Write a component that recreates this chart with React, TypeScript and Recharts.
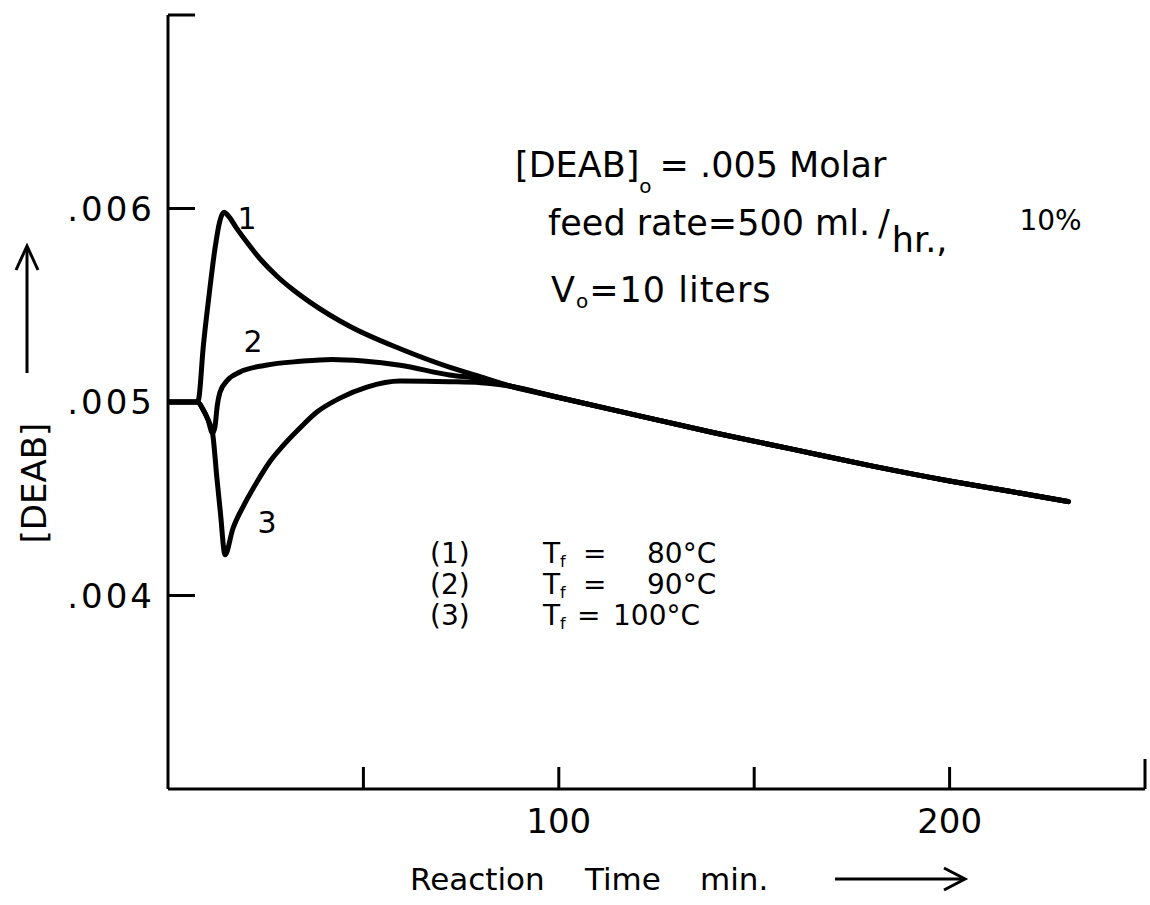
import React from 'react';
import { LineChart, Line, XAxis, YAxis } from 'recharts';

const FONT = '"DejaVu Sans", Verdana, sans-serif';

// Curve 1: T_f = 80 °C
const curve1Time = [0, 7.5, 7.9, 9.0, 10.5, 12.0, 13.2, 14.3, 15.5, 17.5, 20.2, 24, 27.9, 32, 36.4, 46.6, 59.4, 72, 80];
const curve1Conc = [0.005, 0.005, 0.00502, 0.00528, 0.00555, 0.00579, 0.00593, 0.00598, 0.00596, 0.0059, 0.005825, 0.00573, 0.00565, 0.00558, 0.005515, 0.00539, 0.005275, 0.00518, 0.00513];

// Curve 2: T_f = 90 °C
const curve2Time = [0, 7.5, 9.0, 10.2, 11.4, 12.0, 12.6, 13.3, 15.1, 18.4, 25, 33.8, 42, 50, 59.4, 72, 80];
const curve2Conc = [0.005, 0.005, 0.00496, 0.00491, 0.00484, 0.00487, 0.00498, 0.00505, 0.00511, 0.005155, 0.00519, 0.00521, 0.00522, 0.005212, 0.00519, 0.00514, 0.00512];

// Curve 3: T_f = 100 °C
const curve3Time = [0, 7.5, 9.0, 10.2, 11.4, 12.5, 13.4, 14.6, 16.6, 19.5, 22.8, 26, 29.4, 33.5, 38.1, 44, 50.9, 59.4, 72, 80];
const curve3Conc = [0.005, 0.005, 0.00496, 0.00491, 0.00484, 0.00461, 0.00443, 0.00421, 0.004345, 0.00447, 0.004588, 0.00469, 0.004773, 0.00486, 0.004948, 0.00502, 0.005077, 0.005108, 0.005105, 0.0051];

// Common tail after the curves merge
const tailTime = [88, 98.6, 115, 140, 160, 180, 200, 215, 230.4];
const tailConc = [0.00508, 0.00503, 0.004954, 0.00484, 0.004755, 0.00467, 0.004592, 0.00454, 0.004485];

const xTicks = [50, 100, 150, 200, 250];
const xTickLabels: Record<number, string> = { 100: '100', 200: '200' };
const yTicks = [0.004, 0.005, 0.006, 0.007];
const yTickLabels: Record<string, string> = { '0.004': '.004', '0.005': '.005', '0.006': '.006' };
const yTickMarks = ['0.004', '0.006', '0.007'];

const build = (ts: number[], vs: number[]) =>
  ts.map((t, i) => ({ t, v: vs[i] })).concat(tailTime.map((t, i) => ({ t, v: tailConc[i] })));

const data1 = build(curve1Time, curve1Conc);
const data2 = build(curve2Time, curve2Conc);
const data3 = build(curve3Time, curve3Conc);

const XTick = (props: any) => {
  const { x, y, payload } = props;
  const v = payload.value as number;
  const len = v === 250 ? 30 : 22;
  const label = xTickLabels[v];
  return (
    <g>
      <line x1={x} y1={y} x2={x} y2={y - len} stroke="#000" strokeWidth={3} />
      {label && (
        <text x={x} y={y + 44} textAnchor="middle" fontSize={34} fontFamily={FONT} fill="#000">
          {label}
        </text>
      )}
    </g>
  );
};

const YTick = (props: any) => {
  const { x, y, payload } = props;
  const key = String(Number(Number(payload.value).toFixed(4)));
  const label = yTickLabels[key];
  const mark = yTickMarks.includes(key);
  return (
    <g>
      {mark && <line x1={x} y1={y} x2={x + 27} y2={y} stroke="#000" strokeWidth={3} />}
      {label && (
        <text x={x - 13} y={y} dy="0.36em" textAnchor="end" fontSize={34} letterSpacing={3} fontFamily={FONT} fill="#000">
          {label}
        </text>
      )}
    </g>
  );
};

export default function App() {
  return (
    <div style={{ position: 'absolute', left: 0, top: 0, width: 1150, height: 905, background: '#fff' }}>
      <LineChart width={1150} height={905} margin={{ top: 15, right: 5, left: 138, bottom: 86 }}>
        <XAxis
          dataKey="t"
          type="number"
          domain={[0, 250]}
          ticks={xTicks}
          height={30}
          tickSize={0}
          tickMargin={0}
          tickLine={false}
          axisLine={{ stroke: '#000', strokeWidth: 3 }}
          tick={<XTick />}
          interval={0}
          allowDataOverflow
        />
        <YAxis
          type="number"
          domain={[0.003, 0.007]}
          ticks={yTicks}
          width={30}
          tickSize={0}
          tickMargin={0}
          tickLine={false}
          axisLine={{ stroke: '#000', strokeWidth: 3 }}
          tick={<YTick />}
          interval={0}
          allowDataOverflow
        />
        <Line data={data1} dataKey="v" type="monotone" stroke="#000" strokeWidth={5} dot={false} isAnimationActive={false} strokeLinecap="round" strokeLinejoin="round" />
        <Line data={data2} dataKey="v" type="monotone" stroke="#000" strokeWidth={5} dot={false} isAnimationActive={false} strokeLinecap="round" strokeLinejoin="round" />
        <Line data={data3} dataKey="v" type="monotone" stroke="#000" strokeWidth={5} dot={false} isAnimationActive={false} strokeLinecap="round" strokeLinejoin="round" />
      </LineChart>
      <svg width={1150} height={905} style={{ position: 'absolute', left: 0, top: 0, pointerEvents: 'none' }} fontFamily={FONT} fill="#000">
        {/* conditions block */}
        <text x={515} y={177} fontSize={35}>
          [DEAB]<tspan fontSize={20} dy={16}>o</tspan>
          <tspan dy={-16} dx={8}>= .005 Molar</tspan>
        </text>
        <text x={548} y={235} fontSize={35}>
          feed rate=500 ml.
          <tspan dx={8}>/</tspan>
          <tspan dy={17} dx={2}>hr.,</tspan>
          <tspan dy={-22} dx={72} fontSize={28}>10%</tspan>
        </text>
        <text x={551} y={302} fontSize={35} letterSpacing={1}>
          V<tspan fontSize={20} dy={6}>o</tspan>
          <tspan dy={-6}>=10 liters</tspan>
        </text>
        {/* legend */}
        <g fontSize={28}>
          <text x={430} y={563}>(1)</text>
          <text x={543} y={563}>T<tspan fontSize={16} dy={4}>f</tspan></text>
          <text x={583} y={563}>=</text>
          <text x={647} y={563}>80°C</text>
          <text x={430} y={594}>(2)</text>
          <text x={543} y={594}>T<tspan fontSize={16} dy={4}>f</tspan></text>
          <text x={583} y={594}>=</text>
          <text x={647} y={594}>90°C</text>
          <text x={430} y={625}>(3)</text>
          <text x={543} y={625}>T<tspan fontSize={16} dy={4}>f</tspan></text>
          <text x={577} y={625}>=</text>
          <text x={613} y={625}>100°C</text>
        </g>
        {/* curve labels */}
        <text x={247} y={229} fontSize={30} textAnchor="middle">1</text>
        <text x={253} y={352} fontSize={30} textAnchor="middle">2</text>
        <text x={267} y={533} fontSize={30} textAnchor="middle">3</text>
        {/* y-axis title and arrow */}
        <text x={34} y={483} dy="0.36em" fontSize={34} textAnchor="middle" transform="rotate(-90, 34, 483)">[DEAB]</text>
        <line x1={27} y1={373} x2={27} y2={247} stroke="#000" strokeWidth={3} />
        <polyline points="16,270 27,246 38,270" fill="none" stroke="#000" strokeWidth={3} />
        {/* x-axis title and arrow */}
        <text x={410} y={890} fontSize={31}>Reaction</text>
        <text x={585} y={890} fontSize={31}>Time</text>
        <text x={700} y={890} fontSize={31}>min.</text>
        <line x1={835} y1={879} x2={965} y2={879} stroke="#000" strokeWidth={3} />
        <polyline points="944,868 965,879 944,890" fill="none" stroke="#000" strokeWidth={3} />
      </svg>
    </div>
  );
}
